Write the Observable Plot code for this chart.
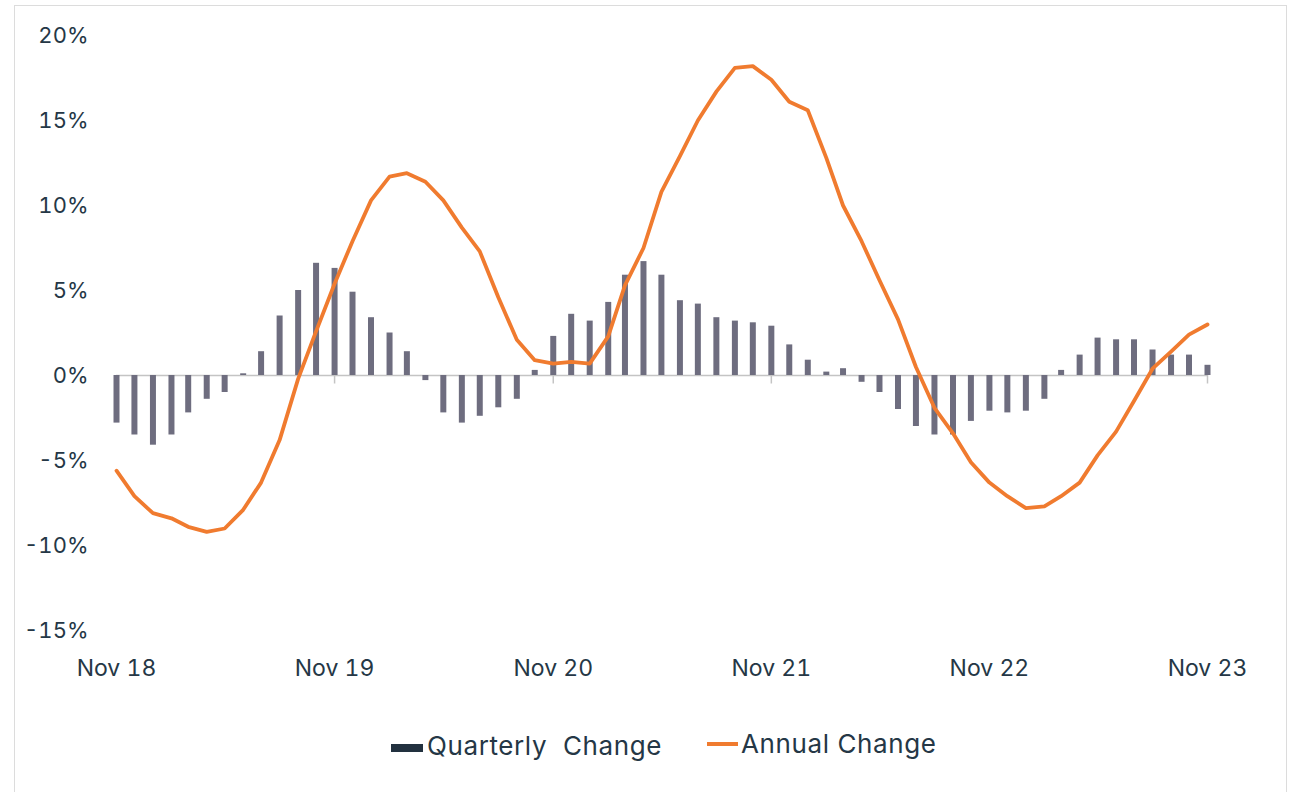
<!DOCTYPE html>
<html>
<head>
<meta charset="utf-8">
<script src="https://cdn.jsdelivr.net/npm/d3@7"></script>
<script src="https://cdn.jsdelivr.net/npm/@observablehq/plot@0.6"></script>
<style>
  html, body { margin: 0; padding: 0; background: #fff; }
  body { width: 1291px; height: 792px; position: relative; overflow: hidden; font-family: Inter, "Open Sans", sans-serif; }
  #frame { position: absolute; left: 14px; top: 5px; width: 1273px; height: 820px; border: 1.5px solid #dcdcdc; box-sizing: border-box; }
  #chart { position: absolute; left: 0; top: 0; }
  #legend { position: absolute; left: 0; top: 722px; width: 1291px; height: 50px; color: #253746; font-size: 26px; letter-spacing: 0.6px; }
  .sw1 { position: absolute; left: 391px; top: 22px; width: 32px; height: 8px; background: #22313f; }
  .sw2 { position: absolute; left: 707px; top: 20px; width: 31px; height: 4px; background: #f07b2f; }
  .t1 { position: absolute; left: 427px; top: 8px; white-space: pre; }
  .t2 { position: absolute; left: 741px; top: 6px; white-space: pre; }
</style>
</head>
<body>
<div id="frame"></div>
<div id="chart"></div>
<div id="legend">
  <div class="sw1"></div><div class="t1">Quarterly  Change</div>
  <div class="sw2"></div><div class="t2">Annual Change</div>
</div>
<script>
// Monthly observations, Nov 2018 – Nov 2023
const startMonth = new Date(Date.UTC(2018, 10, 1));
const quarterlyChange = [
  -2.8, -3.5, -4.1, -3.5, -2.2, -1.4, -1.0, 0.1, 1.4, 3.5,
  5.0, 6.6, 6.3, 4.9, 3.4, 2.5, 1.4, -0.3, -2.2, -2.8,
  -2.4, -1.9, -1.4, 0.3, 2.3, 3.6, 3.2, 4.3, 5.9, 6.7,
  5.9, 4.4, 4.2, 3.4, 3.2, 3.1, 2.9, 1.8, 0.9, 0.2,
  0.4, -0.4, -1.0, -2.0, -3.0, -3.5, -3.5, -2.7, -2.1, -2.2,
  -2.1, -1.4, 0.3, 1.2, 2.2, 2.1, 2.1, 1.5, 1.2, 1.2, 0.6
];
const annualChange = [
  -5.6, -7.1, -8.1, -8.4, -8.9, -9.2, -9.0, -7.9, -6.3, -3.8,
  -0.2, 2.6, 5.4, 7.9, 10.3, 11.7, 11.9, 11.4, 10.3, 8.7,
  7.3, 4.6, 2.1, 0.9, 0.7, 0.8, 0.7, 2.3, 5.3, 7.5,
  10.8, 12.9, 15.0, 16.7, 18.1, 18.2, 17.4, 16.1, 15.6, 12.8,
  10.0, 7.9, 5.6, 3.3, 0.5, -1.9, -3.4, -5.1, -6.3, -7.1,
  -7.8, -7.7, -7.1, -6.3, -4.7, -3.3, -1.5, 0.4, 1.4, 2.4, 3.0
];
const yTicks = [-15, -10, -5, 0, 5, 10, 15, 20];
const xTickLabels = ["Nov 18", "Nov 19", "Nov 20", "Nov 21", "Nov 22", "Nov 23"];

const months = quarterlyChange.map((_, i) => d3.utcMonth.offset(startMonth, i));
const data = months.map((date, i) => ({date, q: quarterlyChange[i], a: annualChange[i]}));
const xTicks = xTickLabels.map((_, i) => d3.utcMonth.offset(startMonth, i * 12));

const textColor = "#253746";

const chart = Plot.plot({
  width: 1291,
  height: 700,
  marginLeft: 116,
  marginRight: 84,
  marginTop: 35,
  marginBottom: 70,
  style: { fontFamily: "Inter, 'Open Sans', sans-serif", color: textColor, background: "transparent", overflow: "visible" },
  x: { type: "utc", domain: [months[0], months[months.length - 1]] },
  y: { domain: [-15, 20] },
  marks: [
    Plot.ruleY([0], { stroke: "#c4c4c4", strokeWidth: 1.5 }),
    Plot.ruleX(xTicks, { x: d => d, y1: 0, y2: -0.5, stroke: "#c4c4c4", strokeWidth: 1.5 }),
    Plot.ruleX(data, { x: "date", y1: 0, y2: "q", stroke: "#6e6d7f", strokeWidth: 6 }),
    Plot.lineY(data, { x: "date", y: "a", stroke: "#f07b2f", strokeWidth: 3.8, strokeLinejoin: "round" }),
    Plot.axisY({ ticks: yTicks, tickSize: 0, tickPadding: 28, fontSize: 22, fill: textColor,
      tickFormat: d => (d < 0 ? "-" : "") + Math.abs(d) + "%" , label: null }),
    Plot.axisX({ ticks: xTicks, tickSize: 0, tickPadding: 29, fontSize: 23, fill: textColor,
      tickFormat: (d, i) => xTickLabels[i], label: null })
  ]
});
document.getElementById("chart").appendChild(chart);
</script>
</body>
</html>
